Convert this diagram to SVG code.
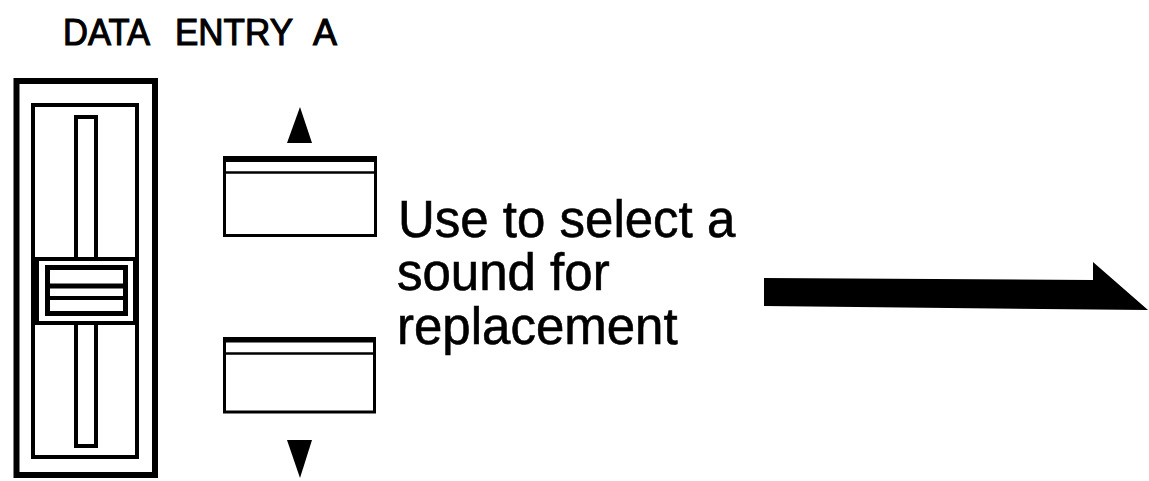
<svg xmlns="http://www.w3.org/2000/svg" width="1149" height="481" viewBox="0 0 1149 481">
<style>
.ln{fill:#fff;stroke:#000;}
.ink{fill:#000;stroke:none;}
.t{font-family:"Liberation Sans",Arial,sans-serif;fill:#000;}
</style>
<rect width="1149" height="481" fill="#fff"/>
<g id="title">
<text class="t" y="45" font-size="37" stroke="#000" stroke-width="1.1"><tspan x="63" textLength="87" lengthAdjust="spacingAndGlyphs">DATA</tspan><tspan x="175" textLength="118" lengthAdjust="spacingAndGlyphs">ENTRY</tspan><tspan x="313" textLength="24" lengthAdjust="spacingAndGlyphs">A</tspan></text>
</g>
<g id="fader">
<rect class="ln" x="16.5" y="81" width="138.5" height="394" stroke-width="6"/>
<rect class="ln" x="33" y="105" width="104" height="352" stroke-width="4"/>
<rect class="ln" x="76" y="117" width="20" height="329" stroke-width="4"/>
<rect class="ln" x="36" y="259" width="99" height="64" stroke-width="4"/>
<line x1="36" y1="259" x2="36" y2="323" stroke="#000" stroke-width="6"/>
<rect class="ln" x="47.5" y="267.5" width="78" height="46" stroke-width="5"/>
<line x1="47" y1="286" x2="126" y2="286" stroke="#000" stroke-width="5"/>
<line x1="47" y1="298" x2="126" y2="298" stroke="#000" stroke-width="4"/>
</g>
<g id="up-button">
<polygon class="ink" points="300,107 287,143 312,143"/>
<rect class="ln" x="224.5" y="157.5" width="151" height="78" stroke-width="3"/>
<line x1="223" y1="159" x2="377" y2="159" stroke="#000" stroke-width="6"/>
<line x1="225" y1="172.5" x2="375" y2="172.5" stroke="#000" stroke-width="2.5"/>
</g>
<g id="down-button">
<rect class="ln" x="224.5" y="338.5" width="150" height="73.5" stroke-width="3"/>
<line x1="223" y1="340" x2="376" y2="340" stroke="#000" stroke-width="5"/>
<line x1="225" y1="353.5" x2="374" y2="353.5" stroke="#000" stroke-width="2.5"/>
<polygon class="ink" points="287,440 312,440 300,478"/>
</g>
<g id="label">
<text class="t" font-size="51" stroke="#000" stroke-width="0.6">
<tspan x="398" y="237">Use to select a</tspan>
<tspan x="397" y="290">sound for</tspan>
<tspan x="397" y="344">replacement</tspan>
</text>
</g>
<g id="connectors">
<polygon class="ink" points="764,278 1093,280 1093,262 1148,310 764,306"/>
</g>
</svg>
